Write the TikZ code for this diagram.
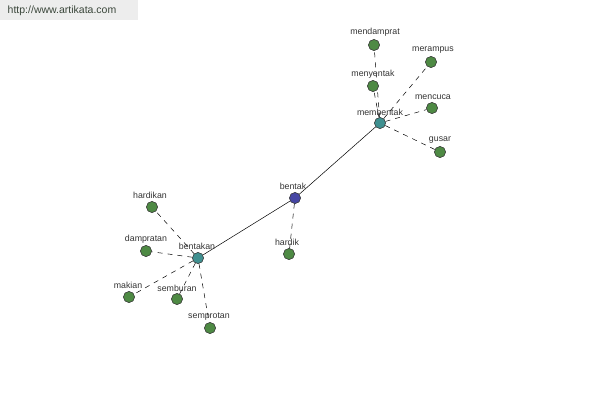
\documentclass[tikz,border=0pt]{standalone}
\usepackage{fontspec}
\setmainfont{Liberation Sans}
\definecolor{leafg}{HTML}{4E8A44}
\definecolor{hubt}{HTML}{3F9090}
\definecolor{rootb}{HTML}{4646A4}
\definecolor{lbl}{HTML}{333333}
\definecolor{urltext}{HTML}{3A463A}
\begin{document}
\begin{tikzpicture}[x=1pt,y=-1pt,
  dot/.style={circle,draw=black!75,line width=0.5pt,minimum size=11pt,inner sep=0pt},
  leaf/.style={dot,fill=leafg},
  hub/.style={dot,fill=hubt},
  root/.style={dot,fill=rootb},
  lab/.style={font=\fontsize{8.8}{10}\selectfont,text=lbl,inner sep=0pt},
  dashedge/.style={dash pattern=on 5pt off 5pt,line width=0.5pt},
  solidedge/.style={line width=0.5pt}]
\useasboundingbox (0,0) rectangle (600,400);
\fill[black!7] (0,0) rectangle (138,20);
\node[font=\fontsize{10.5}{12}\selectfont,text=urltext,inner sep=0pt] (url) at (62,11) {http://www.artikata.com};
% nodes
\node[root] (bentak) at (295,198) {};
\node[hub] (membentak) at (380,123) {};
\node[hub] (bentakan) at (198,258) {};
\node[leaf] (mendamprat) at (374,45) {};
\node[leaf] (menyentak) at (373,86) {};
\node[leaf] (merampus) at (431,62) {};
\node[leaf] (mencuca) at (432,108) {};
\node[leaf] (gusar) at (440,152) {};
\node[leaf] (hardik) at (289,254) {};
\node[leaf] (hardikan) at (152,207) {};
\node[leaf] (dampratan) at (146,251) {};
\node[leaf] (makian) at (129,297) {};
\node[leaf] (semburan) at (177,299) {};
\node[leaf] (semprotan) at (210,328) {};
% edges
\draw[solidedge] (bentak) -- (membentak);
\draw[solidedge] (bentak) -- (bentakan);
\draw[dashedge] (bentak) -- (hardik);
\foreach \n in {mendamprat,menyentak,merampus,mencuca,gusar}
  \draw[dashedge] (membentak) -- (\n);
\foreach \n in {hardikan,dampratan,makian,semburan,semprotan}
  \draw[dashedge] (bentakan) -- (\n);
% labels
\node[lab] (l1) at (293,186) {bentak};
\node[lab] (l2) at (380,112) {membentak};
\node[lab] (l3) at (197,246) {bentakan};
\node[lab] (l4) at (375,32) {mendamprat};
\node[lab] (l5) at (373,74) {menyentak};
\node[lab] (l6) at (433,50) {merampus};
\node[lab] (l7) at (433,97) {mencuca};
\node[lab] (l8) at (440,140) {gusar};
\node[lab] (l9) at (287,242) {hardik};
\node[lab] (l10) at (150,195) {hardikan};
\node[lab] (l11) at (146,239) {dampratan};
\node[lab] (l12) at (128,285) {makian};
\node[lab] (l13) at (177,288) {semburan};
\node[lab] (l14) at (209,317) {semprotan};
% redraw dots on top
\foreach \n/\s in {bentak/root,membentak/hub,bentakan/hub,mendamprat/leaf,menyentak/leaf,merampus/leaf,mencuca/leaf,gusar/leaf,hardik/leaf,hardikan/leaf,dampratan/leaf,makian/leaf,semburan/leaf,semprotan/leaf}
  \node[\s] at (\n) {};
\end{tikzpicture}
\end{document}
